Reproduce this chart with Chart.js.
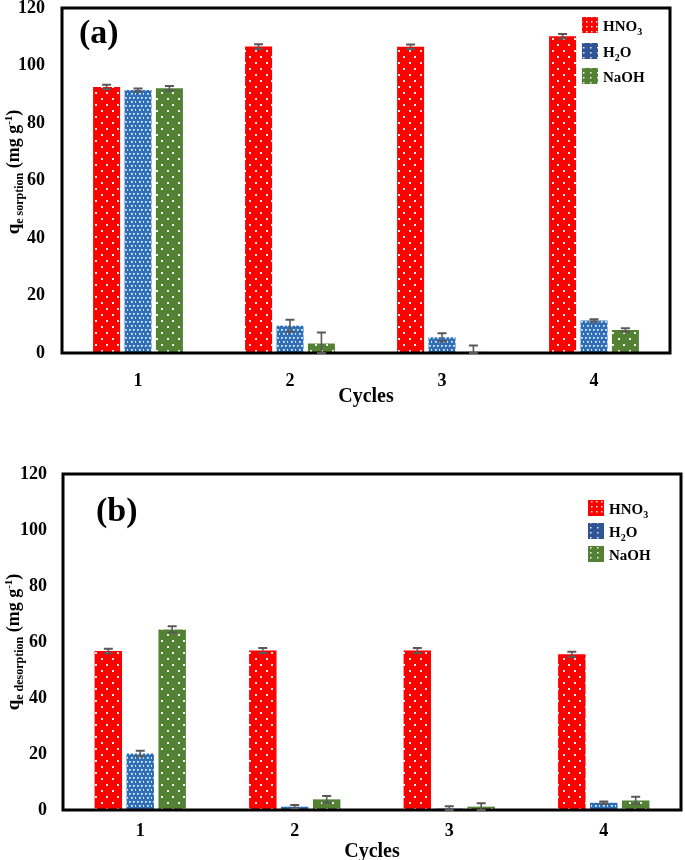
<!DOCTYPE html>
<html><head><meta charset="utf-8">
<script src="https://cdn.jsdelivr.net/npm/chart.js@4"></script>
<style>
html,body{margin:0;padding:0;background:#fff;width:685px;height:860px;overflow:hidden}
.box{position:absolute;left:0;width:685px;height:420px}
</style></head><body>
<div class="box" style="top:0"><canvas id="c1" width="685" height="420"></canvas></div>
<div class="box" style="top:440px"><canvas id="c2" width="685" height="420"></canvas></div>
<script>
// ---- data ----
const cycles = ['1', '2', '3', '4'];
const yTicks = [0, 20, 40, 60, 80, 100, 120];
const sorpHNO3 = [92.5, 106.6, 106.5, 110.2];
const sorpH2O  = [91.5, 9.5, 5.5, 11.3];
const sorpNaOH = [92.1, 3.3, 0.4, 8.0];
const sorpErrHNO3 = [0.8, 0.8, 0.8, 0.8];
const sorpErrH2O  = [0.5, 2.1, 1.4, 0.4];
const sorpErrNaOH = [0.8, 3.8, 2.2, 0.6];
const desHNO3 = [56.8, 57.0, 57.0, 55.6];
const desH2O  = [20.2, 1.2, 0.5, 2.6];
const desNaOH = [64.5, 3.8, 1.2, 3.4];
const desErrHNO3 = [0.8, 0.9, 0.9, 0.9];
const desErrH2O  = [1.0, 0.6, 0.8, 0.4];
const desErrNaOH = [1.1, 1.2, 1.2, 1.3];

const FONT = '"Liberation Serif", "Times New Roman", serif';

function makePattern(ctx, color, w, h, dots, r) {
  const c = document.createElement('canvas');
  c.width = w; c.height = h;
  const g = c.getContext('2d');
  g.fillStyle = color; g.fillRect(0, 0, w, h);
  g.fillStyle = 'rgba(255,255,255,0.92)';
  dots.forEach(([x, y]) => g.fillRect(x, y, r, r));
  return ctx.createPattern(c, 'repeat');
}
function patterns(ctx) {
  return [
    makePattern(ctx, '#FF0000', 11, 12, [[2, 2], [7, 8]], 2),
    makePattern(ctx, '#2E6FB6', 8, 8, [[1, 1], [5, 1], [3, 5], [7, 5]], 1.7),
    makePattern(ctx, '#548235', 11, 12, [[2, 2], [7, 8]], 2)
  ];
}
function legendPatterns(ctx) {
  return [
    makePattern(ctx, '#FF0000', 5, 5, [[1, 1]], 1.5),
    makePattern(ctx, '#2F5597', 7, 5, [[2, 2]], 1.5),
    makePattern(ctx, '#548235', 7, 5, [[2, 2]], 1.5)
  ];
}

function drawRich(ctx, parts, x, y, align) {
  let total = 0;
  parts.forEach(p => { ctx.font = 'bold ' + p[1] + 'px ' + FONT; total += ctx.measureText(p[0]).width; });
  let cx = align === 'center' ? x - total / 2 : x;
  ctx.textAlign = 'left';
  ctx.textBaseline = 'alphabetic';
  parts.forEach(p => {
    ctx.font = 'bold ' + p[1] + 'px ' + FONT;
    ctx.fillText(p[0], cx, y + p[2]);
    cx += ctx.measureText(p[0]).width;
  });
}

function makeChart(id, vals, errs, o) {
  const canvas = document.getElementById(id);
  const ctx = canvas.getContext('2d');
  const pats = patterns(ctx);
  const lpats = legendPatterns(ctx);
  const names = ['HNO3', 'H2O', 'NaOH'];
  const plugin = {
    id: 'extras',
    afterDatasetsDraw(chart) {
      const c = chart.ctx, a = chart.chartArea, ys = chart.scales.y;
      c.save();
      c.strokeStyle = '#000'; c.lineWidth = 3;
      c.strokeRect(a.left, a.top, a.right - a.left, a.bottom - a.top);
      c.strokeStyle = '#595959';
      chart.data.datasets.forEach((ds, di) => {
        const meta = chart.getDatasetMeta(di);
        meta.data.forEach((bar, i) => {
          const v = ds.data[i], e = errs[di][i];
          const yt = ys.getPixelForValue(v + e), yb = ys.getPixelForValue(Math.max(0, v - e));
          c.lineWidth = 1.6;
          c.beginPath(); c.moveTo(bar.x, yt); c.lineTo(bar.x, yb); c.stroke();
          c.lineWidth = 2;
          c.beginPath();
          c.moveTo(bar.x - 4.5, yt); c.lineTo(bar.x + 4.5, yt);
          c.moveTo(bar.x - 4.5, yb); c.lineTo(bar.x + 4.5, yb);
          c.stroke();
        });
      });
      c.restore();
    },
    afterDraw(chart) {
      const c = chart.ctx, a = chart.chartArea;
      c.save();
      c.fillStyle = '#000';
      c.font = 'bold 34px ' + FONT;
      c.textAlign = 'left'; c.textBaseline = 'middle';
      c.fillText(o.panel, o.panelX, o.panelY);
      c.font = 'bold 20px ' + FONT;
      c.textAlign = 'center'; c.textBaseline = 'middle';
      c.fillText('Cycles', (a.left + a.right) / 2, o.cyclesY);
      c.translate(o.ytX, o.ytY);
      c.rotate(-Math.PI / 2);
      drawRich(c, [['q', 19, 0], [o.sub, 12, 4], [' (mg g', 18, 0], ['-1', 11, -7], [')', 18, 0]], 0, 6, 'center');
      c.setTransform(1, 0, 0, 1, 0, 0);
      const labels = [
        [['HNO', 15, 0], ['3', 10, 4]],
        [['H', 15, 0], ['2', 10, 4], ['O', 15, 0]],
        [['NaOH', 15, 0]]
      ];
      labels.forEach((parts, i) => {
        const cy = o.legY[i];
        c.fillStyle = lpats[i];
        c.fillRect(o.legX, cy - 8, 16, 16);
        c.fillStyle = '#000';
        drawRich(c, parts, o.legX + 21, cy + 5.5, 'left');
      });
      c.restore();
    }
  };
  return new Chart(ctx, {
    type: 'bar',
    data: {
      labels: cycles,
      datasets: vals.map((d, i) => ({
        label: names[i], data: d, backgroundColor: pats[i], borderWidth: 0,
        categoryPercentage: 0.62, barPercentage: 0.86
      }))
    },
    options: {
      responsive: false, animation: false, devicePixelRatio: 1,
      layout: { autoPadding: false, padding: o.pad },
      plugins: { legend: { display: false }, tooltip: { enabled: false } },
      scales: {
        x: {
          grid: { display: false, drawTicks: false }, border: { display: false },
          ticks: { color: '#000', font: { family: FONT, size: 18, weight: 'bold' }, padding: o.xTickPad },
          afterFit: s => { s.height = o.xH; s.paddingLeft = 0; s.paddingRight = 0; s.paddingTop = 0; s.paddingBottom = 0; }
        },
        y: {
          min: 0, max: 120,
          grid: { display: false, drawTicks: false }, border: { display: false },
          afterBuildTicks: s => { s.ticks = yTicks.map(v => ({ value: v })); },
          ticks: { color: '#000', font: { family: FONT, size: 18, weight: 'bold' }, padding: o.yTickPad },
          afterFit: s => { s.width = o.yW; s.paddingLeft = 0; s.paddingRight = 0; s.paddingTop = 0; s.paddingBottom = 0; }
        }
      }
    },
    plugins: [plugin]
  });
}

makeChart('c1', [sorpHNO3, sorpH2O, sorpNaOH], [sorpErrHNO3, sorpErrH2O, sorpErrNaOH], {
  pad: { left: 0, top: 8, right: 15, bottom: 0 }, yW: 62, xH: 67, yTickPad: 17, xTickPad: 18,
  panel: '(a)', panelX: 79, panelY: 34, cyclesY: 397, ytX: 13, ytY: 172, sub: 'e sorption',
  legX: 582, legY: [25, 51, 76]
});
makeChart('c2', [desHNO3, desH2O, desNaOH], [desErrHNO3, desErrH2O, desErrNaOH], {
  pad: { left: 0, top: 34, right: 4, bottom: 0 }, yW: 63, xH: 50, yTickPad: 16, xTickPad: 11,
  panel: '(b)', panelX: 96, panelY: 72, cyclesY: 412, ytX: 13, ytY: 202, sub: 'e desorption',
  legX: 588, legY: [68, 91, 114]
});
</script>
</body></html>
